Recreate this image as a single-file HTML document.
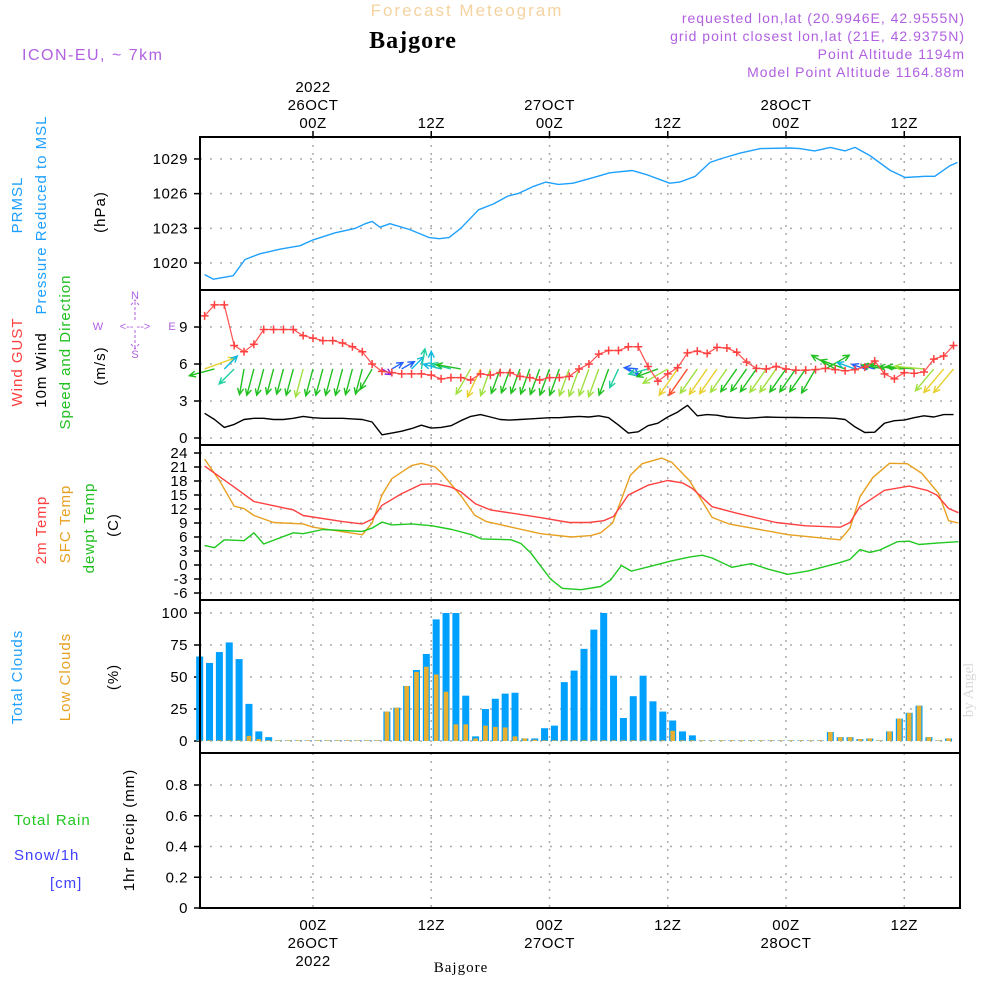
<!DOCTYPE html>
<html><head><meta charset="utf-8">
<style>
html,body{margin:0;padding:0;background:#fff;}
svg{display:block;font-family:"Liberation Sans",sans-serif;}
.tk{font-size:15px;fill:#000;letter-spacing:0.5px}
.lbl{font-size:15px;letter-spacing:1px}
</style></head>
<body>
<svg id="chart" width="1000" height="1000" viewBox="0 0 1000 1000" xmlns="http://www.w3.org/2000/svg">
<rect x="0" y="0" width="1000" height="1000" fill="#fff"/>
<text x="467" y="16" text-anchor="middle" font-size="17" fill="#f5d3a0" letter-spacing="2">Forecast Meteogram</text>
<text x="413" y="48" text-anchor="middle" font-size="24" font-weight="bold" font-family="Liberation Serif,serif" fill="#000" letter-spacing="1">Bajgore</text>
<text x="22" y="60" font-size="16" fill="#b060e0" letter-spacing="1.5">ICON-EU, ~ 7km</text>
<g font-size="14" fill="#b060e0" text-anchor="end" letter-spacing="1">
<text x="965" y="23">requested lon,lat (20.9946E, 42.9555N)</text>
<text x="965" y="41">grid point closest lon,lat (21E, 42.9375N)</text>
<text x="965" y="59">Point Altitude 1194m</text>
<text x="965" y="77">Model Point Altitude 1164.88m</text>
</g>
<g fill="#b060e0" font-size="11" text-anchor="middle">
<text x="135" y="299">N</text>
<text x="135" y="358">S</text>
<text x="98" y="330">W</text>
<text x="172" y="330">E</text>
<text x="135" y="330">&lt;-- --&gt;</text>
<path d="M135,302V320M135,330V348M131,305L135,300L139,305M131,344L135,349L139,344" stroke="#b060e0" stroke-width="1" fill="none" stroke-dasharray="3,2"/>
</g>
<g font-size="15" letter-spacing="1">
<text x="14" y="825" fill="#20c820">Total  Rain</text>
<text x="14" y="860" fill="#4040ff">Snow/1h</text>
<text x="50" y="888" fill="#4040ff">[cm]</text>
</g>
<text x="461" y="972" text-anchor="middle" font-size="15" font-family="Liberation Serif,serif" letter-spacing="1" fill="#000">Bajgore</text>
<text x="973" y="690" text-anchor="middle" font-size="15" font-family="Liberation Serif,serif" fill="#d8d8d8" transform="rotate(-90 973 690)">by Angel</text>
<g id="layer"></g>
</svg>
<script>
// ---------- data ----------
const timeTickHours = [0, 12, 24, 36, 48, 60];
const topTickLabels = ["00Z", "12Z", "00Z", "12Z", "00Z", "12Z"];
const dateLabels = ["26OCT", "", "27OCT", "", "28OCT", ""];
const yearLabels = ["2022", "", "", "", "", ""];

const pressHours = [-11,-10.1,-8.1,-6.9,-5.4,-3.3,-1.3,0,2.2,4.3,5.3,6.0,6.8,7.8,9.8,11.8,12.8,13.8,15.0,16.8,18.3,19.8,20.8,22.3,23.6,24.9,26.4,28.9,30.1,32.4,34.0,36.2,37.2,38.8,40.3,41.3,43.3,45.4,48.4,49.4,50.9,52.5,54.0,55.0,56.5,58.6,60.1,62.1,63.1,64.6,65.4];
const pressVals = [1019.0,1018.6,1018.9,1020.3,1020.8,1021.2,1021.5,1022.0,1022.6,1023.0,1023.4,1023.6,1023.1,1023.4,1022.9,1022.2,1022.1,1022.2,1023.0,1024.6,1025.1,1025.8,1026.0,1026.6,1027.0,1026.8,1026.9,1027.5,1027.8,1028.0,1027.6,1026.9,1027.0,1027.5,1028.7,1029.0,1029.5,1029.9,1029.95,1029.9,1029.7,1030.0,1029.7,1030.0,1029.3,1028.0,1027.4,1027.5,1027.5,1028.4,1028.7];

const gustVals = [9.9,10.8,10.8,7.5,7.0,7.6,8.8,8.8,8.8,8.8,8.3,8.1,7.9,7.9,7.7,7.4,7.0,6.0,5.4,5.3,5.2,5.2,5.2,5.1,4.8,4.9,4.9,4.7,5.2,5.1,5.3,5.3,5.0,4.9,4.7,4.9,4.9,5.0,5.6,6.0,6.8,7.1,7.1,7.4,7.4,5.8,4.6,5.2,5.7,6.9,7.05,6.85,7.35,7.3,6.95,6.15,5.65,5.6,5.8,5.6,5.5,5.5,5.55,5.65,5.55,5.45,5.55,5.75,6.25,5.2,4.8,5.3,5.25,5.35,6.4,6.65,7.5];
const windVals = [2.0,1.5,0.86,1.1,1.5,1.6,1.6,1.5,1.5,1.6,1.75,1.65,1.6,1.6,1.6,1.55,1.5,1.3,0.26,0.4,0.55,0.76,1.04,0.8,0.86,1.0,1.4,1.75,1.9,1.7,1.5,1.45,1.5,1.55,1.6,1.65,1.65,1.7,1.75,1.7,1.8,1.65,1.05,0.4,0.5,1.0,1.2,1.7,2.1,2.65,1.8,1.9,1.85,1.7,1.65,1.6,1.65,1.7,1.68,1.67,1.66,1.65,1.65,1.63,1.6,1.5,0.9,0.45,0.47,1.2,1.4,1.45,1.65,1.8,1.7,1.9,1.9];
const windDirTo = [70,255,45,225,190,195,195,195,195,195,195,195,195,195,195,195,195,210,120,60,60,45,10,0,285,285,280,210,205,200,200,200,200,200,200,200,200,200,200,200,200,200,205,120,275,255,250,240,215,215,215,215,215,215,215,215,215,215,215,215,215,215,210,60,300,290,290,290,285,280,280,275,275,275,220,220,220];

const t2Hours = [-11,-8,-6,-2,-1,3,5,6,7,9,11,12.5,14,15,16.5,18,23,26,28,29.5,30.5,32,34,36,37.5,38.5,40.5,43,47,50,53.5,54.5,55.5,58,60.5,62.3,63.3,64.5,65.5];
const t2Vals = [21.2,16.7,13.6,11.8,10.6,9.3,8.8,9.8,12.8,15.3,17.3,17.4,16.7,15.7,13.1,11.8,10.2,9.1,9.1,9.5,10.4,15.0,17.1,18.1,17.6,16.4,12.5,11.1,9.1,8.4,8.1,9.1,12.5,16.0,16.9,16.0,15.0,12.1,11.2];
const sfcHours = [-11,-9.5,-8,-7,-6,-4,-1,0,5,6,7,8,10,11,12.4,13.1,15.1,16.4,17.6,23.1,26.2,28.2,29.2,30.4,32.2,33.4,35.4,36.4,38.2,40.5,42.2,48.2,53.5,54.5,55.5,56.8,58.5,60.3,61.8,63.5,64.5,65.5];
const sfcVals = [22.7,18.1,12.6,12.1,10.6,9.1,8.8,8.1,6.5,9.0,15.0,18.5,21.3,21.8,21.0,19.6,14.6,10.7,9.3,6.7,6.0,6.3,6.9,9.0,19.2,21.7,22.9,22.0,18.1,10.2,8.8,6.5,5.4,7.9,14.6,18.7,21.8,21.7,19.6,15.3,9.5,9.0];
const dewHours = [-11,-10,-9,-7,-6,-5,-2,-1,1,5,6,7,8,10,12.1,14.1,16.1,17.1,20.1,21.1,22.1,23.1,24.1,25.3,27.2,29.2,30.2,31.3,32.3,34.2,36.2,38.2,39.5,40.5,42.5,44.5,46.2,48.2,50.2,53.3,54.5,55.5,56.5,57.5,59.3,60.5,61.5,63.3,65.5];
const dewVals = [4.2,3.7,5.4,5.2,6.9,4.5,6.9,6.7,7.6,7.2,7.9,9.2,8.6,8.8,8.4,7.6,6.5,5.6,5.4,4.6,2.6,-0.2,-3.0,-5.0,-5.3,-4.6,-3.2,-0.1,-1.3,-0.3,0.8,1.7,2.1,1.5,-0.5,0.3,-0.9,-2.0,-1.3,0.4,1.2,3.3,2.7,3.2,5.0,5.1,4.4,4.7,5.0];

const totalClouds = [66,61,69.5,77,64,29,7.5,3,0.5,0.5,0.5,0.5,0.5,0.5,0.5,0.5,0.5,0.5,0.5,23,26,43,55.5,68,95,100,100,35.4,3.6,25,33,37,37.7,2,2,10,12,46,55,72,87,100,51,18,35,51,31,23,16,7.5,4.4,0.5,0.5,0.5,0.5,0.5,0.5,0.5,0.5,0.5,0.5,0.5,0.5,0.5,7,3,3,1.5,2,0.5,7.5,17.5,22,27.6,3,0.5,2];
const lowClouds = [0.5,0.5,0.5,0.5,0.5,4,1.5,0.5,0.5,0.5,0.5,0.5,0.5,0.5,0.5,0.5,0.5,0.5,0.5,23,26,43,54,58,52,38.5,13,13,2,12,11,10.6,3.6,2,1,0.5,0.5,0.5,0.5,0.5,0.5,0.5,0.5,0.5,0.5,0.5,0.5,0.5,8,0.5,0.5,0.5,0.5,0.5,0.5,0.5,0.5,0.5,0.5,0.5,0.5,0.5,0.5,0.5,7,3,3,1.5,2,0.5,7.5,17.5,22,27.6,3,0.5,2];

const pressTicks = [1020,1023,1026,1029];
const windTicks = [0,3,6,9];
const tempTicks = [-6,-3,0,3,6,9,12,15,18,21,24];
const cloudTicks = [0,25,50,75,100];
const precipTicks = [0,0.2,0.4,0.6,0.8];

// ---------- scales ----------
const PL = 200, PR = 960;
const X = h => 313 + h * 9.854;
const yP = v => 263 - (v - 1020) * 11.56;
const yW = v => 438 - v * 12.33;
const yT = v => 593 - (v + 6) * 4.667;
const yC = v => 741 - v * 1.28;
const yR = v => 908 - v * 153.75;
const panels = [[137,290],[290,445],[445,600],[600,753],[753,908]];

const NS = "http://www.w3.org/2000/svg";
const layer = document.getElementById("layer");
function mk(tag, attrs, parent) {
  const e = document.createElementNS(NS, tag);
  for (const k in attrs) e.setAttribute(k, attrs[k]);
  (parent || layer).appendChild(e);
  return e;
}
function txt(s, attrs, parent) { const e = mk("text", attrs, parent); e.textContent = s; return e; }

const grid = mk("g", {});


panels.forEach(([t, b]) => {
  timeTickHours.forEach(h => {
    const l = mk("line", {x1: X(h), x2: X(h), y1: t, y2: b, stroke: "#aaa", "stroke-width": 1.5, "stroke-dasharray": "2,6"}, grid);
    
    
  });
});
function hgrid(ticks, f, fmt, name) {
  const g = mk("g", {});
  
  
  ticks.forEach(v => {
    const y = f(v);
    const gl = mk("line", {x1: PL, x2: PR, y1: y, y2: y, stroke: "#aaa", "stroke-width": 1.5, "stroke-dasharray": "2,8"}, g);
    
    
    const tm = mk("line", {x1: PL - 6, x2: PL, y1: y, y2: y, stroke: "#000", "stroke-width": 1.5}, g);
    
    
    const tl = txt(fmt(v), {x: 188, y: y + 5, "text-anchor": "end", class: "tk"}, g);
    
    
  });
}
hgrid(pressTicks, yP, v => String(v), "pressure-y-axis");
hgrid(windTicks, yW, v => String(v), "wind-y-axis");
hgrid(tempTicks, yT, v => String(v), "temp-y-axis");
hgrid(cloudTicks, yC, v => String(v), "cloud-y-axis");
hgrid(precipTicks, yR, v => v === 0 ? "0" : v.toFixed(1), "precip-y-axis");

const tl = mk("g", {});


timeTickHours.forEach((h, i) => {
  const x = X(h);
  const a = txt(topTickLabels[i], {x: x, y: 128, "text-anchor": "middle", class: "tk"}, tl);
  
  
  const b = txt(topTickLabels[i], {x: x, y: 930, "text-anchor": "middle", class: "tk"}, tl);
  
  
  if (dateLabels[i]) {
    const c = txt(dateLabels[i], {x: x, y: 110, "text-anchor": "middle", class: "tk"}, tl);
    
    
    const d = txt(dateLabels[i], {x: x, y: 948, "text-anchor": "middle", class: "tk"}, tl);
    
    
  }
  if (yearLabels[i]) {
    const e = txt(yearLabels[i], {x: x, y: 92, "text-anchor": "middle", class: "tk"}, tl);
    
    
    const f = txt(yearLabels[i], {x: x, y: 966, "text-anchor": "middle", class: "tk"}, tl);
    
    
  }
  const tt = mk("line", {x1: x, x2: x, y1: 131, y2: 137, stroke: "#000", "stroke-width": 1.5}, tl);
  
  
});

function poly(hs, vs, fy, color, name, w) {
  const pts = hs.map((h, i) => X(h).toFixed(1) + "," + fy(vs[i]).toFixed(1)).join(" ");
  const p = mk("polyline", {points: pts, fill: "none", stroke: color, "stroke-width": w || 1.4, "stroke-linejoin": "round"});
  
  
  return p;
}
const hourly = gustVals.map((_, k) => -11 + k);

poly(pressHours, pressVals, yP, "#1ea0ff", "pressure-line");
poly(hourly, windVals, yW, "#000", "wind-speed-line");

function spdColor(s) {
  if (s < 0.35) return "#8a20e0";
  if (s < 0.7) return "#2060ff";
  if (s < 0.95) return "#10b8e0";
  if (s < 1.15) return "#20d0a0";
  if (s < 1.68) return "#20c020";
  if (s < 1.85) return "#a0e040";
  if (s < 2.3) return "#e8d030";
  return "#ff5030";
}
const arrows = mk("g", {});


hourly.forEach((h, k) => {
  const s = windVals[k];
  const L = Math.max(8, Math.min(32, 8 + 12 * s));
  const th = windDirTo[k] * Math.PI / 180;
  const x0 = X(h), y0 = yW(5.6);
  const x1 = x0 + L * Math.sin(th), y1 = y0 - L * Math.cos(th);
  const hl = 7, a1 = th + Math.PI - 0.45, a2 = th + Math.PI + 0.45;
  const d = `M${x0},${y0}L${x1},${y1}M${x1 + hl * Math.sin(a1)},${y1 - hl * Math.cos(a1)}L${x1},${y1}L${x1 + hl * Math.sin(a2)},${y1 - hl * Math.cos(a2)}`;
  const ar = mk("path", {d: d, stroke: spdColor(s), "stroke-width": 1.4, fill: "none"}, arrows);
  
  
});

poly(hourly, gustVals, yW, "#ff5050", "gust-line", 1.2);
const gm = mk("g", {});


hourly.forEach((h, k) => {
  const x = X(h), y = yW(gustVals[k]);
  const m = mk("path", {d: `M${x - 4},${y}H${x + 4}M${x},${y - 4}V${y + 4}`, stroke: "#ff4040", "stroke-width": 1.5}, gm);
  
  
});

poly(sfcHours, sfcVals, yT, "#e8a020", "sfc-temp-line");
poly(t2Hours, t2Vals, yT, "#ff4040", "2m-temp-line");
poly(dewHours, dewVals, yT, "#20c820", "dewpoint-line");

const cb = mk("g", {});


totalClouds.forEach((v, k) => {
  const xc = X(-11.5 + k);
  const b = mk("rect", {x: xc - 3.5, y: yC(v), width: 7, height: Math.max(0.6, yC(0) - yC(v)), fill: "#00a0ff"}, cb);
  
  
  const lv = lowClouds[k];
  const lb = mk("rect", {x: xc - 2.3, y: yC(lv), width: 4.6, height: Math.max(0.6, yC(0) - yC(lv)), fill: "#e8b030"}, cb);
  
  
});

const pb = mk("line", {x1: PL, x2: PR, y1: yR(0), y2: yR(0), stroke: "#000", "stroke-width": 1.5, "stroke-dasharray": "5,2"});



panels.forEach(([t, b], i) => {
  const r = mk("rect", {x: PL, y: t, width: PR - PL, height: b - t, fill: "none", stroke: "#000", "stroke-width": 2});
  
  
});

const svg = document.getElementById("chart");
const side = [
  ["PRMSL", 22, 205, "#1ea0ff"],
  ["Pressure Reduced to MSL", 46, 215, "#1ea0ff"],
  ["(hPa)", 105, 212, "#000"],
  ["Wind GUST", 22, 362, "#ff4040"],
  ["10m Wind", 46, 370, "#000"],
  ["Speed and Direction", 70, 352, "#20c020"],
  ["(m/s)", 105, 366, "#000"],
  ["2m Temp", 46, 530, "#ff4040"],
  ["SFC Temp", 70, 524, "#e8a020"],
  ["dewpt Temp", 94, 528, "#20c020"],
  ["(C)", 118, 525, "#000"],
  ["Total Clouds", 22, 677, "#1ea0ff"],
  ["Low Clouds", 70, 677, "#e8a020"],
  ["(%)", 118, 677, "#000"],
  ["1hr Precip (mm)", 134, 830, "#000"]
];
side.forEach(([s, x, y, c]) => {
  const e = document.createElementNS(NS, "text");
  e.setAttribute("x", x); e.setAttribute("y", y);
  e.setAttribute("transform", `rotate(-90 ${x} ${y})`);
  e.setAttribute("text-anchor", "middle");
  e.setAttribute("class", "lbl");
  e.setAttribute("fill", c);
  e.textContent = s;
  
  
  svg.appendChild(e);
});
</script>
</body></html>
